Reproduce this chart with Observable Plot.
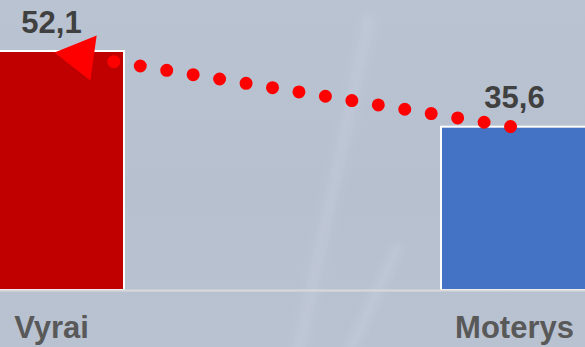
<!DOCTYPE html>
<html>
<head>
<meta charset="utf-8">
<script src="https://cdn.jsdelivr.net/npm/d3@7"></script>
<script src="https://cdn.jsdelivr.net/npm/@observablehq/plot@0.6"></script>
<style>
  html, body { margin: 0; padding: 0; width: 585px; height: 347px; overflow: hidden; }
  body {
    background: linear-gradient(180deg, #bac3d2 0%, #b7c0cf 55%, #b9c2d1 100%);
    font-family: "Liberation Sans", Arial, sans-serif;
  }
  #wrap { position: relative; width: 585px; height: 347px; }
  .streak {
    position: absolute; pointer-events: none;
    background: linear-gradient(90deg, rgba(205,214,228,0) 0%, rgba(205,214,228,0.45) 50%, rgba(205,214,228,0) 100%);
    filter: blur(4px);
  }
  #chart { position: absolute; left: 0; top: 0; }
</style>
</head>
<body>
<div id="wrap">
  <div class="streak" style="left:362px; top:15px; width:16px; height:350px; transform: rotate(12deg); transform-origin: top center;"></div>
  <div class="streak" style="left:392px; top:245px; width:14px; height:120px; transform: rotate(25deg); transform-origin: top center;"></div>
  <div id="chart"></div>
</div>
<script>
// Share by sex, two bars with a dotted arrow from the smaller to the larger
const categories = ["Vyrai", "Moterys"];
const values = [52.1, 35.6];
const valueLabels = ["52,1", "35,6"];
const barColors = ["#c00000", "#4472c4"];

const bars = categories.map((c, i) => ({
  category: c, value: values[i], label: valueLabels[i], color: barColors[i]
}));

// arrow runs from Moterys up to Vyrai
const change = [{from: categories[1], fromValue: values[1], to: categories[0], toValue: values[0]}];

const chart = Plot.plot({
  width: 585,
  height: 347,
  marginTop: 51,
  marginBottom: 57,
  marginLeft: 0,
  marginRight: 0,
  style: {background: "transparent", fontFamily: "'Liberation Sans', Arial, sans-serif", overflow: "visible"},
  x: {domain: categories, range: [-23, 587], paddingInner: 0.685, paddingOuter: 0, label: null},
  y: {domain: [0, 52.1], axis: null},
  color: {type: "identity"},
  marks: [
    Plot.barY(bars, {x: "category", y: "value", fill: "color", stroke: "white", strokeWidth: 2}),
    Plot.ruleY([0], {stroke: "#d9d9d9", strokeWidth: 2}),
    // dotted shaft; stops short of the head
    Plot.arrow(change, {
      x1: "from", y1: "fromValue", x2: "to", y2: "toValue",
      stroke: "#ff0000", strokeWidth: 13, strokeLinecap: "round",
      strokeDasharray: "0 26.8", headLength: 0, insetStart: 4, insetEnd: 38.5
    }),
    // solid triangular head at the Vyrai end
    Plot.dot(change, {
      x: "to", y: "toValue", symbol: "triangle", r: 16.9,
      fill: "#ff0000", stroke: "none", rotate: -82, dx: 29, dy: 4.7
    }),
    Plot.text(bars, {
      x: "category", y: "value", text: "label", dy: -19, lineAnchor: "bottom",
      fontSize: 31, fontWeight: "bold", fill: "#404040"
    }),
    Plot.axisX({tickSize: 0, tickPadding: 25, fontSize: 31, fontWeight: "bold", color: "#595959", label: null})
  ]
});

document.getElementById("chart").append(chart);
</script>
</body>
</html>
